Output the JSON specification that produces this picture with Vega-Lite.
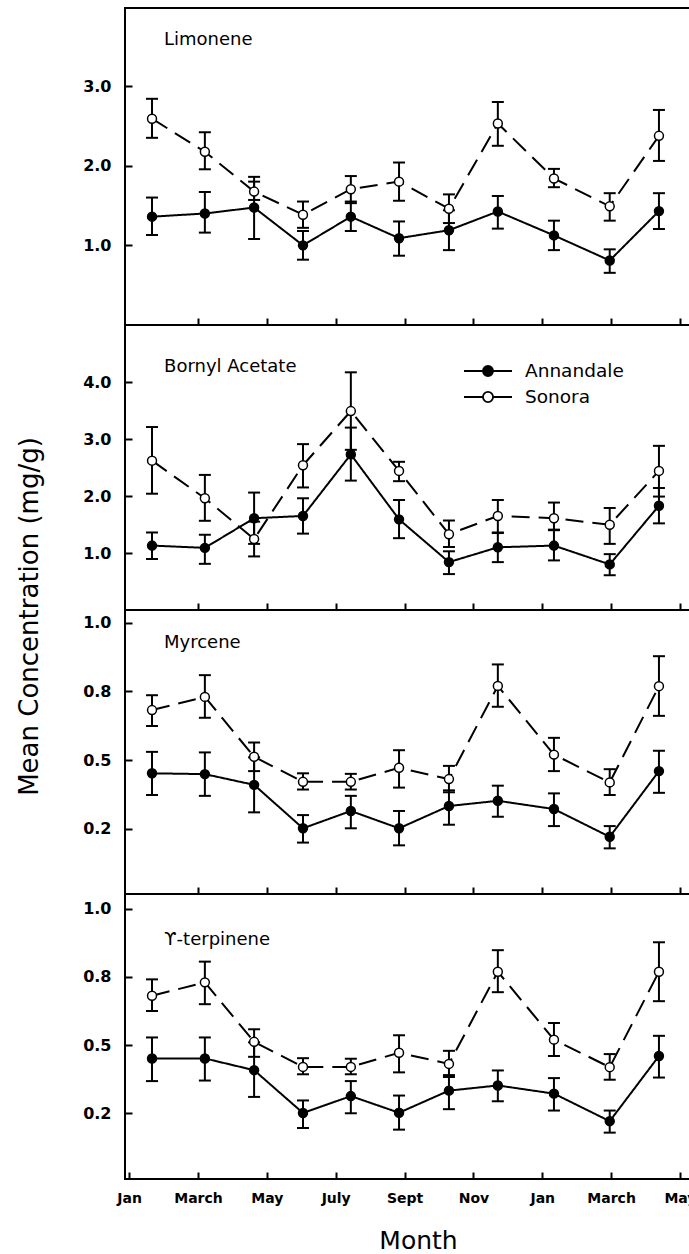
{
  "$schema": "https://vega.github.io/schema/vega-lite/v6.json",
  "background": "white",
  "padding": {"left": 14, "top": 7, "right": 0, "bottom": 0},
  "datasets": {
    "conc": [
      {"compound": "Limonene", "site": "Annandale", "month": 0.665, "mean": 1.36, "lo": 1.13, "hi": 1.60},
      {"compound": "Limonene", "site": "Annandale", "month": 2.20, "mean": 1.40, "lo": 1.16, "hi": 1.67},
      {"compound": "Limonene", "site": "Annandale", "month": 3.63, "mean": 1.475, "lo": 1.08, "hi": 1.86},
      {"compound": "Limonene", "site": "Annandale", "month": 5.05, "mean": 1.00, "lo": 0.82, "hi": 1.18},
      {"compound": "Limonene", "site": "Annandale", "month": 6.44, "mean": 1.36, "lo": 1.18, "hi": 1.55},
      {"compound": "Limonene", "site": "Annandale", "month": 7.84, "mean": 1.09, "lo": 0.87, "hi": 1.30},
      {"compound": "Limonene", "site": "Annandale", "month": 9.29, "mean": 1.19, "lo": 0.94, "hi": 1.44},
      {"compound": "Limonene", "site": "Annandale", "month": 10.71, "mean": 1.425, "lo": 1.21, "hi": 1.62},
      {"compound": "Limonene", "site": "Annandale", "month": 12.34, "mean": 1.125, "lo": 0.94, "hi": 1.31},
      {"compound": "Limonene", "site": "Annandale", "month": 13.96, "mean": 0.81, "lo": 0.655, "hi": 0.95},
      {"compound": "Limonene", "site": "Annandale", "month": 15.39, "mean": 1.43, "lo": 1.205, "hi": 1.655},
      {"compound": "Limonene", "site": "Sonora", "month": 0.665, "mean": 2.59, "lo": 2.35, "hi": 2.84},
      {"compound": "Limonene", "site": "Sonora", "month": 2.20, "mean": 2.175, "lo": 1.955, "hi": 2.42},
      {"compound": "Limonene", "site": "Sonora", "month": 3.63, "mean": 1.675, "lo": 1.57, "hi": 1.80},
      {"compound": "Limonene", "site": "Sonora", "month": 5.05, "mean": 1.385, "lo": 1.22, "hi": 1.55},
      {"compound": "Limonene", "site": "Sonora", "month": 6.44, "mean": 1.705, "lo": 1.53, "hi": 1.87},
      {"compound": "Limonene", "site": "Sonora", "month": 7.84, "mean": 1.80, "lo": 1.56, "hi": 2.04},
      {"compound": "Limonene", "site": "Sonora", "month": 9.29, "mean": 1.46, "lo": 1.28, "hi": 1.64},
      {"compound": "Limonene", "site": "Sonora", "month": 10.71, "mean": 2.53, "lo": 2.25, "hi": 2.80},
      {"compound": "Limonene", "site": "Sonora", "month": 12.34, "mean": 1.84, "lo": 1.73, "hi": 1.96},
      {"compound": "Limonene", "site": "Sonora", "month": 13.96, "mean": 1.49, "lo": 1.31, "hi": 1.655},
      {"compound": "Limonene", "site": "Sonora", "month": 15.39, "mean": 2.375, "lo": 2.06, "hi": 2.70},

      {"compound": "Bornyl Acetate", "site": "Annandale", "month": 0.665, "mean": 1.13, "lo": 0.895, "hi": 1.36},
      {"compound": "Bornyl Acetate", "site": "Annandale", "month": 2.20, "mean": 1.09, "lo": 0.81, "hi": 1.32},
      {"compound": "Bornyl Acetate", "site": "Annandale", "month": 3.63, "mean": 1.61, "lo": 1.16, "hi": 2.06},
      {"compound": "Bornyl Acetate", "site": "Annandale", "month": 5.05, "mean": 1.65, "lo": 1.34, "hi": 1.96},
      {"compound": "Bornyl Acetate", "site": "Annandale", "month": 6.44, "mean": 2.73, "lo": 2.27, "hi": 3.20},
      {"compound": "Bornyl Acetate", "site": "Annandale", "month": 7.84, "mean": 1.59, "lo": 1.26, "hi": 1.93},
      {"compound": "Bornyl Acetate", "site": "Annandale", "month": 9.29, "mean": 0.84, "lo": 0.63, "hi": 1.03},
      {"compound": "Bornyl Acetate", "site": "Annandale", "month": 10.71, "mean": 1.10, "lo": 0.84, "hi": 1.35},
      {"compound": "Bornyl Acetate", "site": "Annandale", "month": 12.34, "mean": 1.13, "lo": 0.87, "hi": 1.41},
      {"compound": "Bornyl Acetate", "site": "Annandale", "month": 13.96, "mean": 0.80, "lo": 0.61, "hi": 0.98},
      {"compound": "Bornyl Acetate", "site": "Annandale", "month": 15.39, "mean": 1.83, "lo": 1.52, "hi": 2.14},
      {"compound": "Bornyl Acetate", "site": "Sonora", "month": 0.665, "mean": 2.62, "lo": 2.04, "hi": 3.21},
      {"compound": "Bornyl Acetate", "site": "Sonora", "month": 2.20, "mean": 1.96, "lo": 1.565, "hi": 2.37},
      {"compound": "Bornyl Acetate", "site": "Sonora", "month": 3.63, "mean": 1.245, "lo": 0.94, "hi": 1.55},
      {"compound": "Bornyl Acetate", "site": "Sonora", "month": 5.05, "mean": 2.54, "lo": 2.15, "hi": 2.91},
      {"compound": "Bornyl Acetate", "site": "Sonora", "month": 6.44, "mean": 3.49, "lo": 2.81, "hi": 4.17},
      {"compound": "Bornyl Acetate", "site": "Sonora", "month": 7.84, "mean": 2.44, "lo": 2.26, "hi": 2.60},
      {"compound": "Bornyl Acetate", "site": "Sonora", "month": 9.29, "mean": 1.33, "lo": 1.105, "hi": 1.57},
      {"compound": "Bornyl Acetate", "site": "Sonora", "month": 10.71, "mean": 1.65, "lo": 1.36, "hi": 1.93},
      {"compound": "Bornyl Acetate", "site": "Sonora", "month": 12.34, "mean": 1.61, "lo": 1.40, "hi": 1.885},
      {"compound": "Bornyl Acetate", "site": "Sonora", "month": 13.96, "mean": 1.495, "lo": 1.16, "hi": 1.79},
      {"compound": "Bornyl Acetate", "site": "Sonora", "month": 15.39, "mean": 2.44, "lo": 1.99, "hi": 2.88},

      {"compound": "Myrcene", "site": "Annandale", "month": 0.665, "mean": 0.452, "lo": 0.373, "hi": 0.53},
      {"compound": "Myrcene", "site": "Annandale", "month": 2.20, "mean": 0.449, "lo": 0.37, "hi": 0.528},
      {"compound": "Myrcene", "site": "Annandale", "month": 3.63, "mean": 0.41, "lo": 0.31, "hi": 0.51},
      {"compound": "Myrcene", "site": "Annandale", "month": 5.05, "mean": 0.252, "lo": 0.20, "hi": 0.30},
      {"compound": "Myrcene", "site": "Annandale", "month": 6.44, "mean": 0.315, "lo": 0.252, "hi": 0.37},
      {"compound": "Myrcene", "site": "Annandale", "month": 7.84, "mean": 0.252, "lo": 0.19, "hi": 0.315},
      {"compound": "Myrcene", "site": "Annandale", "month": 9.29, "mean": 0.333, "lo": 0.265, "hi": 0.39},
      {"compound": "Myrcene", "site": "Annandale", "month": 10.71, "mean": 0.352, "lo": 0.294, "hi": 0.407},
      {"compound": "Myrcene", "site": "Annandale", "month": 12.34, "mean": 0.322, "lo": 0.26, "hi": 0.379},
      {"compound": "Myrcene", "site": "Annandale", "month": 13.96, "mean": 0.221, "lo": 0.179, "hi": 0.26},
      {"compound": "Myrcene", "site": "Annandale", "month": 15.39, "mean": 0.46, "lo": 0.381, "hi": 0.534},
      {"compound": "Myrcene", "site": "Sonora", "month": 0.665, "mean": 0.682, "lo": 0.624, "hi": 0.736},
      {"compound": "Myrcene", "site": "Sonora", "month": 2.20, "mean": 0.73, "lo": 0.654, "hi": 0.809},
      {"compound": "Myrcene", "site": "Sonora", "month": 3.63, "mean": 0.512, "lo": 0.46, "hi": 0.564},
      {"compound": "Myrcene", "site": "Sonora", "month": 5.05, "mean": 0.421, "lo": 0.393, "hi": 0.452},
      {"compound": "Myrcene", "site": "Sonora", "month": 6.44, "mean": 0.421, "lo": 0.393, "hi": 0.45},
      {"compound": "Myrcene", "site": "Sonora", "month": 7.84, "mean": 0.472, "lo": 0.40, "hi": 0.536},
      {"compound": "Myrcene", "site": "Sonora", "month": 9.29, "mean": 0.431, "lo": 0.383, "hi": 0.479},
      {"compound": "Myrcene", "site": "Sonora", "month": 10.71, "mean": 0.77, "lo": 0.694, "hi": 0.848},
      {"compound": "Myrcene", "site": "Sonora", "month": 12.34, "mean": 0.52, "lo": 0.46, "hi": 0.581},
      {"compound": "Myrcene", "site": "Sonora", "month": 13.96, "mean": 0.419, "lo": 0.373, "hi": 0.467},
      {"compound": "Myrcene", "site": "Sonora", "month": 15.39, "mean": 0.769, "lo": 0.661, "hi": 0.878},

      {"compound": "ϒ-terpinene", "site": "Annandale", "month": 0.665, "mean": 0.451, "lo": 0.368, "hi": 0.528},
      {"compound": "ϒ-terpinene", "site": "Annandale", "month": 2.20, "mean": 0.451, "lo": 0.37, "hi": 0.528},
      {"compound": "ϒ-terpinene", "site": "Annandale", "month": 3.63, "mean": 0.408, "lo": 0.31, "hi": 0.51},
      {"compound": "ϒ-terpinene", "site": "Annandale", "month": 5.05, "mean": 0.251, "lo": 0.196, "hi": 0.297},
      {"compound": "ϒ-terpinene", "site": "Annandale", "month": 6.44, "mean": 0.313, "lo": 0.25, "hi": 0.368},
      {"compound": "ϒ-terpinene", "site": "Annandale", "month": 7.84, "mean": 0.252, "lo": 0.19, "hi": 0.315},
      {"compound": "ϒ-terpinene", "site": "Annandale", "month": 9.29, "mean": 0.333, "lo": 0.265, "hi": 0.39},
      {"compound": "ϒ-terpinene", "site": "Annandale", "month": 10.71, "mean": 0.352, "lo": 0.294, "hi": 0.407},
      {"compound": "ϒ-terpinene", "site": "Annandale", "month": 12.34, "mean": 0.322, "lo": 0.26, "hi": 0.379},
      {"compound": "ϒ-terpinene", "site": "Annandale", "month": 13.96, "mean": 0.221, "lo": 0.179, "hi": 0.26},
      {"compound": "ϒ-terpinene", "site": "Annandale", "month": 15.39, "mean": 0.46, "lo": 0.381, "hi": 0.534},
      {"compound": "ϒ-terpinene", "site": "Sonora", "month": 0.665, "mean": 0.681, "lo": 0.625, "hi": 0.741},
      {"compound": "ϒ-terpinene", "site": "Sonora", "month": 2.20, "mean": 0.73, "lo": 0.65, "hi": 0.806},
      {"compound": "ϒ-terpinene", "site": "Sonora", "month": 3.63, "mean": 0.512, "lo": 0.457, "hi": 0.558},
      {"compound": "ϒ-terpinene", "site": "Sonora", "month": 5.05, "mean": 0.42, "lo": 0.393, "hi": 0.452},
      {"compound": "ϒ-terpinene", "site": "Sonora", "month": 6.44, "mean": 0.42, "lo": 0.393, "hi": 0.45},
      {"compound": "ϒ-terpinene", "site": "Sonora", "month": 7.84, "mean": 0.472, "lo": 0.40, "hi": 0.536},
      {"compound": "ϒ-terpinene", "site": "Sonora", "month": 9.29, "mean": 0.431, "lo": 0.383, "hi": 0.479},
      {"compound": "ϒ-terpinene", "site": "Sonora", "month": 10.71, "mean": 0.769, "lo": 0.694, "hi": 0.848},
      {"compound": "ϒ-terpinene", "site": "Sonora", "month": 12.34, "mean": 0.52, "lo": 0.46, "hi": 0.581},
      {"compound": "ϒ-terpinene", "site": "Sonora", "month": 13.96, "mean": 0.419, "lo": 0.373, "hi": 0.467},
      {"compound": "ϒ-terpinene", "site": "Sonora", "month": 15.39, "mean": 0.769, "lo": 0.661, "hi": 0.877}
    ]
  },
  "bounds": "flush",
  "spacing": 0,
  "resolve": {"scale": {"fill": "independent"}, "legend": {"fill": "independent"}},
  "vconcat": [
    {
      "width": 567, "height": 317,
      "data": {"name": "conc"},
      "transform": [{"filter": "datum.compound == 'Limonene'"}],
      "layer": [
        {"mark": {"type": "line", "color": "black", "strokeWidth": 2},
         "encoding": {
           "x": {"field": "month", "type": "quantitative", "scale": {"domain": [-0.12, 16.35], "nice": false, "zero": false},
                 "axis": {"values": [2, 4, 6, 8, 10, 12, 14, 16], "labels": false, "title": null}},
           "y": {"field": "mean", "type": "quantitative", "scale": {"domain": [0, 3.98], "nice": false, "zero": false},
                 "axis": {"values": [1, 2, 3], "format": ".1f", "title": null}},
           "detail": {"field": "site"},
           "strokeDash": {"field": "site", "scale": {"domain": ["Annandale", "Sonora"], "range": [[1, 0], [18, 9]]}, "legend": null}}},
        {"mark": {"type": "rule", "color": "black", "strokeWidth": 2},
         "encoding": {"x": {"field": "month", "type": "quantitative"}, "y": {"field": "lo", "type": "quantitative"}, "y2": {"field": "hi"}}},
        {"mark": {"type": "tick", "orient": "horizontal", "color": "black", "thickness": 2, "size": 12, "opacity": 1},
         "encoding": {"x": {"field": "month", "type": "quantitative"}, "y": {"field": "lo", "type": "quantitative"}}},
        {"mark": {"type": "tick", "orient": "horizontal", "color": "black", "thickness": 2, "size": 12, "opacity": 1},
         "encoding": {"x": {"field": "month", "type": "quantitative"}, "y": {"field": "hi", "type": "quantitative"}}},
        {"mark": {"type": "point", "filled": true, "stroke": "black", "strokeWidth": 1.5, "size": 80, "opacity": 1},
         "encoding": {"x": {"field": "month", "type": "quantitative"}, "y": {"field": "mean", "type": "quantitative"},
           "fill": {"field": "site", "type": "nominal", "scale": {"domain": ["Annandale", "Sonora"], "range": ["black", "white"]}, "legend": null}}},
        {"data": {"values": [{"label": "Limonene"}]},
         "mark": {"type": "text", "align": "left", "baseline": "middle", "fontSize": 18, "color": "black"},
         "encoding": {"x": {"datum": 1.014, "type": "quantitative"}, "y": {"datum": 3.58, "type": "quantitative"}, "text": {"field": "label"}}}
      ]
    },
    {
      "width": 567, "height": 285,
      "data": {"name": "conc"},
      "transform": [{"filter": "datum.compound == 'Bornyl Acetate'"}],
      "layer": [
        {"mark": {"type": "line", "color": "black", "strokeWidth": 2},
         "encoding": {
           "x": {"field": "month", "type": "quantitative", "scale": {"domain": [-0.12, 16.35], "nice": false, "zero": false},
                 "axis": {"values": [2, 4, 6, 8, 10, 12, 14, 16], "labels": false, "title": null}},
           "y": {"field": "mean", "type": "quantitative", "scale": {"domain": [0, 5], "nice": false, "zero": false},
                 "axis": {"values": [1, 2, 3, 4], "format": ".1f", "title": null}},
           "detail": {"field": "site"},
           "strokeDash": {"field": "site", "scale": {"domain": ["Annandale", "Sonora"], "range": [[1, 0], [18, 9]]}, "legend": null}}},
        {"mark": {"type": "rule", "color": "black", "strokeWidth": 2},
         "encoding": {"x": {"field": "month", "type": "quantitative"}, "y": {"field": "lo", "type": "quantitative"}, "y2": {"field": "hi"}}},
        {"mark": {"type": "tick", "orient": "horizontal", "color": "black", "thickness": 2, "size": 12, "opacity": 1},
         "encoding": {"x": {"field": "month", "type": "quantitative"}, "y": {"field": "lo", "type": "quantitative"}}},
        {"mark": {"type": "tick", "orient": "horizontal", "color": "black", "thickness": 2, "size": 12, "opacity": 1},
         "encoding": {"x": {"field": "month", "type": "quantitative"}, "y": {"field": "hi", "type": "quantitative"}}},
        {"mark": {"type": "point", "filled": true, "stroke": "black", "strokeWidth": 1.5, "size": 80, "opacity": 1},
         "encoding": {"x": {"field": "month", "type": "quantitative"}, "y": {"field": "mean", "type": "quantitative"},
           "fill": {"field": "site", "type": "nominal", "scale": {"domain": ["Annandale", "Sonora"], "range": ["black", "white"]},
             "legend": {"title": null, "orient": "none", "legendX": 350, "legendY": 33, "symbolType": "M-2,0H-0.42M0.42,0H2M0.42,0A0.42,0.42,0,1,1,-0.42,0A0.42,0.42,0,1,1,0.42,0", "symbolSize": 576, "symbolStrokeColor": "black", "symbolStrokeWidth": 1.8, "labelFontSize": 18.5, "labelFont": "DejaVu Sans", "labelColor": "black", "labelOffset": 24, "rowPadding": 3, "padding": 0}}}},
        {"data": {"values": [{"label": "Bornyl Acetate"}]},
         "mark": {"type": "text", "align": "left", "baseline": "middle", "fontSize": 18, "color": "black"},
         "encoding": {"x": {"datum": 1.014, "type": "quantitative"}, "y": {"datum": 4.27, "type": "quantitative"}, "text": {"field": "label"}}}
      ]
    },
    {
      "width": 567, "height": 284,
      "data": {"name": "conc"},
      "transform": [{"filter": "datum.compound == 'Myrcene'"}],
      "layer": [
        {"mark": {"type": "line", "color": "black", "strokeWidth": 2},
         "encoding": {
           "x": {"field": "month", "type": "quantitative", "scale": {"domain": [-0.12, 16.35], "nice": false, "zero": false},
                 "axis": {"values": [2, 4, 6, 8, 10, 12, 14, 16], "labels": false, "title": null}},
           "y": {"field": "mean", "type": "quantitative", "scale": {"domain": [0.013, 1.046], "nice": false, "zero": false},
                 "axis": {"values": [0.25, 0.5, 0.75, 1.0], "labelExpr": "datum.value == 0.25 ? '0.2' : format(datum.value, '.1f')",
                          "title": "Mean Concentration (mg/g)", "titleX": -88, "titleY": 6, "titleAngle": 270, "titleAlign": "center", "titleBaseline": "alphabetic", "titleFontSize": 26, "titleFontWeight": "normal"}},
           "detail": {"field": "site"},
           "strokeDash": {"field": "site", "scale": {"domain": ["Annandale", "Sonora"], "range": [[1, 0], [18, 9]]}, "legend": null}}},
        {"mark": {"type": "rule", "color": "black", "strokeWidth": 2},
         "encoding": {"x": {"field": "month", "type": "quantitative"}, "y": {"field": "lo", "type": "quantitative"}, "y2": {"field": "hi"}}},
        {"mark": {"type": "tick", "orient": "horizontal", "color": "black", "thickness": 2, "size": 12, "opacity": 1},
         "encoding": {"x": {"field": "month", "type": "quantitative"}, "y": {"field": "lo", "type": "quantitative"}}},
        {"mark": {"type": "tick", "orient": "horizontal", "color": "black", "thickness": 2, "size": 12, "opacity": 1},
         "encoding": {"x": {"field": "month", "type": "quantitative"}, "y": {"field": "hi", "type": "quantitative"}}},
        {"mark": {"type": "point", "filled": true, "stroke": "black", "strokeWidth": 1.5, "size": 80, "opacity": 1},
         "encoding": {"x": {"field": "month", "type": "quantitative"}, "y": {"field": "mean", "type": "quantitative"},
           "fill": {"field": "site", "type": "nominal", "scale": {"domain": ["Annandale", "Sonora"], "range": ["black", "white"]}, "legend": null}}},
        {"data": {"values": [{"label": "Myrcene"}]},
         "mark": {"type": "text", "align": "left", "baseline": "middle", "fontSize": 18, "color": "black"},
         "encoding": {"x": {"datum": 1.014, "type": "quantitative"}, "y": {"datum": 0.926, "type": "quantitative"}, "text": {"field": "label"}}}
      ]
    },
    {
      "width": 567, "height": 285,
      "data": {"name": "conc"},
      "transform": [{"filter": "datum.compound == 'ϒ-terpinene'"}],
      "layer": [
        {"mark": {"type": "line", "color": "black", "strokeWidth": 2},
         "encoding": {
           "x": {"field": "month", "type": "quantitative", "scale": {"domain": [-0.12, 16.35], "nice": false, "zero": false},
                 "axis": {"values": [0, 2, 4, 6, 8, 10, 12, 14, 16], "labelExpr": "['Jan','March','May','July','Sept','Nov','Jan','March','May'][datum.value / 2]",
                          "labelFontSize": 14, "labelPadding": 19, "labelFlush": false,
                          "title": "Month", "titleX": 293, "titleY": 69, "titleAlign": "center", "titleBaseline": "alphabetic", "titleFontSize": 25, "titleFontWeight": "normal"}},
           "y": {"field": "mean", "type": "quantitative", "scale": {"domain": [0.009, 1.054], "nice": false, "zero": false},
                 "axis": {"values": [0.25, 0.5, 0.75, 1.0], "labelExpr": "datum.value == 0.25 ? '0.2' : format(datum.value, '.1f')", "title": null}},
           "detail": {"field": "site"},
           "strokeDash": {"field": "site", "scale": {"domain": ["Annandale", "Sonora"], "range": [[1, 0], [18, 9]]}, "legend": null}}},
        {"mark": {"type": "rule", "color": "black", "strokeWidth": 2},
         "encoding": {"x": {"field": "month", "type": "quantitative"}, "y": {"field": "lo", "type": "quantitative"}, "y2": {"field": "hi"}}},
        {"mark": {"type": "tick", "orient": "horizontal", "color": "black", "thickness": 2, "size": 12, "opacity": 1},
         "encoding": {"x": {"field": "month", "type": "quantitative"}, "y": {"field": "lo", "type": "quantitative"}}},
        {"mark": {"type": "tick", "orient": "horizontal", "color": "black", "thickness": 2, "size": 12, "opacity": 1},
         "encoding": {"x": {"field": "month", "type": "quantitative"}, "y": {"field": "hi", "type": "quantitative"}}},
        {"mark": {"type": "point", "filled": true, "stroke": "black", "strokeWidth": 1.5, "size": 80, "opacity": 1},
         "encoding": {"x": {"field": "month", "type": "quantitative"}, "y": {"field": "mean", "type": "quantitative"},
           "fill": {"field": "site", "type": "nominal", "scale": {"domain": ["Annandale", "Sonora"], "range": ["black", "white"]}, "legend": null}}},
        {"data": {"values": [{"label": "ϒ-terpinene"}]},
         "mark": {"type": "text", "align": "left", "baseline": "middle", "fontSize": 18, "color": "black"},
         "encoding": {"x": {"datum": 1.014, "type": "quantitative"}, "y": {"datum": 0.887, "type": "quantitative"}, "text": {"field": "label"}}}
      ]
    }
  ],
  "config": {
    "font": "DejaVu Sans",
    "view": {"stroke": "black", "strokeWidth": 2},
    "axis": {"domain": false, "grid": false, "ticks": true, "tickColor": "black", "tickWidth": 2, "tickSize": -7,
             "labelColor": "black", "labelFont": "DejaVu Sans", "labelFontWeight": "bold", "labelFontSize": 16, "labelPadding": 21,
             "titleColor": "black", "titleFont": "DejaVu Sans"},
    "text": {"font": "DejaVu Sans"}
  }
}
